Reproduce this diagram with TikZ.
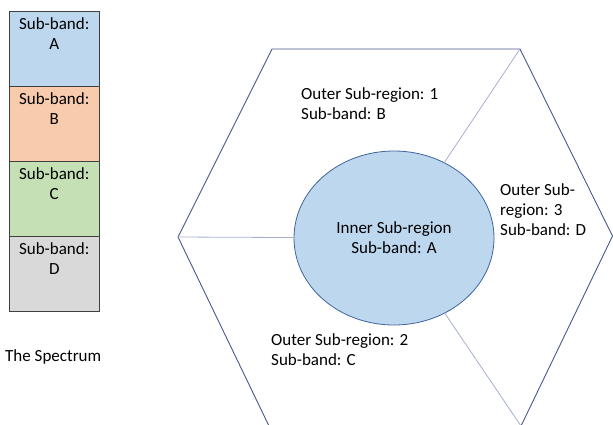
\documentclass[tikz,border=0pt]{standalone}
\usepackage{fontspec}
\setmainfont{Carlito}
\usepackage{xcolor}
\usepackage{tikz}
\usetikzlibrary{shapes,positioning}
\definecolor{bandA}{RGB}{189,215,238}
\definecolor{bandB}{RGB}{248,203,173}
\definecolor{bandC}{RGB}{197,224,180}
\definecolor{bandD}{RGB}{217,217,217}
\definecolor{hexline}{RGB}{72,88,140}
\definecolor{splitline}{RGB}{165,176,206}
\definecolor{cellline}{RGB}{65,100,155}
\tikzset{band node/.style={rectangle,draw=black!75,line width=0.8pt,minimum width=89.5pt,minimum height=75pt,inner sep=0pt,outer sep=0pt},
         band text/.style={anchor=north,align=center,inner sep=0pt,yshift=-6pt},
         region text/.style={anchor=west,align=left,inner sep=0pt},
         inner node/.style={ellipse,fill=bandA,draw=cellline,line width=0.8pt,minimum width=200pt,minimum height=174pt,inner sep=0pt,align=center},
            }

\begin{document}
\begin{tikzpicture}[x=1pt,y=-1pt,font=\fontsize{17}{20}\selectfont]

    \useasboundingbox (0,0) rectangle (613,424);

    % the spectrum
    \node[band node,fill=bandA,label={[band text]north:Sub-band:\\A}] (A) at (54.25,49.2) {};
    \node[band node,fill=bandB,label={[band text]north:Sub-band:\\B}] (B) [below = 0pt of A] {};
    \node[band node,fill=bandC,label={[band text]north:Sub-band:\\C}] (C) [below = 0pt of B] {};
    \node[band node,fill=bandD,label={[band text]north:Sub-band:\\D}] (D) [below = 0pt of C] {};
    \node[region text] (spec) at (5,357) {The Spectrum};

    % the cell
    \coordinate (hl) at (178,237);
    \coordinate (htl) at (272,49);
    \coordinate (htr) at (520,49);
    \coordinate (hr) at (612.5,236);
    \coordinate (hbr) at (521,426);
    \coordinate (hbl) at (269,426);
    \draw[hexline,line width=0.9pt] (hl) -- (htl) -- (htr) -- (hr) -- (hbr) -- (hbl) -- cycle;

    \node[inner node] (inner) at (394,238) {Inner Sub-region\\Sub-band: A};

    \path[draw,splitline,line width=0.8pt]
    (hl) edge (inner)
    (htr) edge (inner)
    (hbr) edge (inner);

    \node[region text] (out1) at (301,103.5) {Outer Sub-region: 1\\Sub-band: B};
    \node[region text] (out2) at (271,350) {Outer Sub-region: 2\\Sub-band: C};
    \node[region text] (out3) at (500,210) {Outer Sub-\\region: 3\\Sub-band: D};

\end{tikzpicture}
\end{document}
